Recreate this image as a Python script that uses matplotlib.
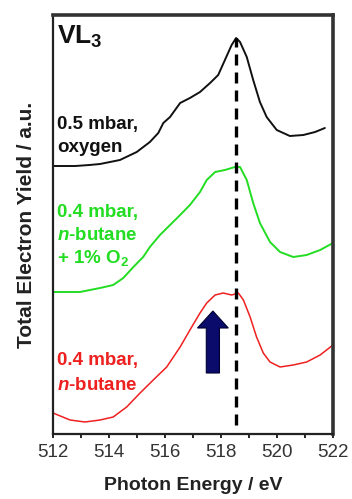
import matplotlib
matplotlib.use("Agg")
import matplotlib.pyplot as plt
from matplotlib.ticker import MultipleLocator

plt.rcParams['font.family'] = ['Liberation Sans', 'DejaVu Sans']
plt.rcParams['mathtext.fontset'] = 'custom'
plt.rcParams['mathtext.rm'] = 'Liberation Sans:bold'
plt.rcParams['mathtext.it'] = 'Liberation Sans:italic:bold'
plt.rcParams['mathtext.bf'] = 'Liberation Sans:bold'

# Spectra (photon energy in eV, yield in arbitrary units, offset stacked)
e_oxygen = [512.0, 512.8, 513.3, 513.68, 514.39, 514.99, 515.46, 515.76, 515.94,
            516.18, 516.54, 516.89, 517.25, 517.61, 517.90, 518.14, 518.38,
            518.54, 518.68, 518.92, 519.15, 519.39, 519.63, 519.99, 520.46,
            520.94, 521.36, 521.71]
y_oxygen = [267, 267, 268, 269, 273, 281, 291, 300, 310, 316, 330, 335, 341,
            350, 358, 373, 388, 395, 391, 376, 353, 331, 316, 303, 297, 298,
            301, 305]

e_mix = [512.0, 512.96, 513.68, 514.15, 514.51, 514.87, 515.22, 515.46, 515.82,
         516.18, 516.54, 516.89, 517.25, 517.49, 517.79, 518.14, 518.5, 518.68,
         518.92, 519.15, 519.39, 519.75, 520.11, 520.58, 521.06, 521.54, 522.0]
y_mix = [141, 141, 145, 148, 155, 166, 176, 186, 198, 208, 218, 228, 241, 253,
         261, 263, 266, 266, 253, 230, 210, 191, 181, 176, 178, 183, 190]

e_butane = [512.0, 512.61, 513.14, 513.68, 514.15, 514.63, 515.11, 515.58,
            516.06, 516.54, 516.89, 517.25, 517.49, 517.79, 518.08, 518.38,
            518.62, 518.80, 519.04, 519.27, 519.51, 519.75, 520.11, 520.58,
            521.06, 521.54, 522.0]
y_butane = [20, 13, 11, 13, 16, 26, 40, 53, 66, 86, 103, 120, 130, 138, 140,
            138, 140, 133, 116, 96, 80, 71, 66, 68, 71, 78, 88]

peak_energy = 518.55
arrow_energy = 517.71
arrow_base, arrow_tip = 60, 122

fig = plt.figure(figsize=(3.52, 4.99), dpi=100)
ax = fig.add_axes([53 / 352, 1 - 434 / 499, 280 / 352, 419 / 499])

line_kw = dict(solid_joinstyle='round', solid_capstyle='round')
ax.plot(e_oxygen, y_oxygen, color='#111111', lw=1.4, **line_kw)
ax.plot(e_mix, y_mix, color='#22dd22', lw=1.4, **line_kw)
ax.plot(e_butane, y_butane, color='#ee2020', lw=1.1, **line_kw)

ax.plot([peak_energy, peak_energy], [8, 395], color='black', lw=2.4,
        linestyle=(0, (3.3, 2.1)))

ax.arrow(arrow_energy, arrow_base, 0, arrow_tip - arrow_base, width=0.47,
         head_width=1.1, head_length=17, length_includes_head=True,
         facecolor='#0b0b6b', edgecolor='#000030', lw=0.8, zorder=5)

# labels
ax.text(512.15, 409, 'VL$_3$', fontsize=19, fontweight='bold', color='#111111',
        va='top', ha='left')
ax.text(512.15, 309, '0.5 mbar,', fontsize=13.5, fontweight='bold',
        color='#111111', va='center')
ax.text(512.15, 285, 'oxygen', fontsize=13.5, fontweight='bold',
        color='#111111', va='center')
ax.text(512.15, 221, '0.4 mbar,', fontsize=13.5, fontweight='bold',
        color='#22dd22', va='center')
ax.text(512.15, 198, '$n$-butane', fontsize=13.5, fontweight='bold',
        color='#22dd22', va='center')
ax.text(512.15, 175, '+ 1% O$_2$', fontsize=13.5, fontweight='bold',
        color='#22dd22', va='center')
ax.text(512.15, 73, '0.4 mbar,', fontsize=13.5, fontweight='bold',
        color='#ee2020', va='center')
ax.text(512.15, 48, '$n$-butane', fontsize=13.5, fontweight='bold',
        color='#ee2020', va='center')

ax.set_xlim(512, 522)
ax.set_ylim(-1, 418)
ax.xaxis.set_major_locator(MultipleLocator(2))
ax.xaxis.set_minor_locator(MultipleLocator(1))
ax.tick_params(axis='x', which='both', direction='out', length=3, width=1.2,
               labelsize=13.5, labelcolor='#333333', pad=4)
ax.set_yticks([])

for side in ['left', 'bottom']:
    ax.spines[side].set_linewidth(1.6)
    ax.spines[side].set_color('#222222')
for side in ['top', 'right']:
    ax.spines[side].set_linewidth(2.6)
    ax.spines[side].set_color('#333333')

ax.set_xlabel('Photon Energy / eV', fontsize=14, fontweight='bold',
              color='#222222', labelpad=12)
ax.set_ylabel('Total Electron Yield / a.u.', fontsize=15, fontweight='bold',
              color='#222222', labelpad=12)

fig.savefig('out.png', dpi=100)
